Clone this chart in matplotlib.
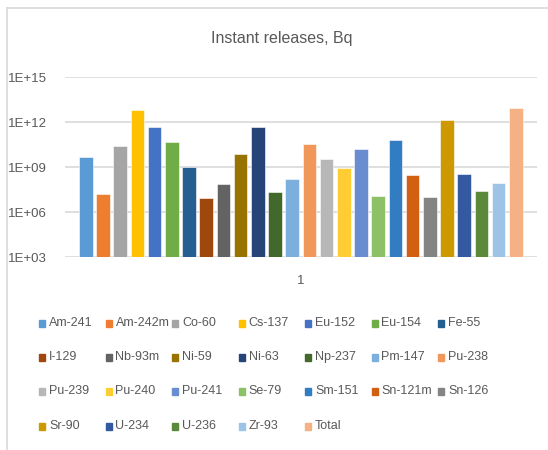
import numpy as np
import matplotlib.pyplot as plt
from matplotlib.lines import Line2D
from matplotlib.patches import Rectangle
from matplotlib.ticker import FixedLocator, FuncFormatter

# ------------ Data -------------
nuclides = ["Am-241", "Am-242m", "Co-60", "Cs-137", "Eu-152", "Eu-154", "Fe-55",
            "I-129", "Nb-93m", "Ni-59", "Ni-63", "Np-237", "Pm-147", "Pu-238",
            "Pu-239", "Pu-240", "Pu-241", "Se-79", "Sm-151", "Sn-121m", "Sn-126",
            "Sr-90", "U-234", "U-236", "Zr-93", "Total"]
releases = [5.0e9, 1.6e7, 2.8e10, 6.6e12, 5.0e11, 5.0e10, 1.0e9,
            9.0e6, 7.4e7, 7.4e9, 5.0e11, 2.2e7, 1.6e8, 3.8e10,
            3.4e9, 8.5e8, 1.6e10, 1.2e7, 7.0e10, 3.0e8, 1.05e7,
            1.4e12, 3.4e8, 2.5e7, 8.5e7, 9.0e12]
colors = ["#5B9BD5", "#ED7D31", "#A5A5A5", "#FFC000", "#4472C4", "#70AD47", "#255E91",
          "#9E480E", "#636363", "#997300", "#264478", "#43682B", "#7CAFDD", "#F1975A",
          "#B7B7B7", "#FFCD33", "#698ED0", "#8CC168", "#327DC2", "#D26012", "#848484",
          "#CC9A00", "#335AA1", "#5A8A39", "#9DC3E6", "#F4B183"]
y_ticks = [1e3, 1e6, 1e9, 1e12, 1e15]
category_label = "1"

TXT = "#595959"
plt.rcParams["font.family"] = ["Liberation Sans", "DejaVu Sans"]

W, H = 548, 450
fig = plt.figure(figsize=(W / 100, H / 100), dpi=100)

# chart border (top + left visible)
fig.add_artist(Line2D([7 / W, 7 / W], [0, 1 - 8 / H], color="#D9D9D9", lw=1.2))
fig.add_artist(Line2D([7 / W, 1], [1 - 8 / H, 1 - 8 / H], color="#D9D9D9", lw=1.2))

ax = fig.add_axes([65 / W, 1 - 257.3 / H, 472 / W, 180 / H])
ax.set_yscale("log")
ax.set_ylim(1e3, 1e15)

x = np.arange(len(nuclides))
ax.bar(x, releases, width=0.79, color=colors, bottom=0, edgecolor="white", linewidth=0.4, zorder=3)
ax.set_xlim(-1.21, 26.23)

ax.yaxis.set_major_locator(FixedLocator(y_ticks))
ax.yaxis.set_minor_locator(FixedLocator([]))
ax.yaxis.set_major_formatter(FuncFormatter(lambda v, p: "1E+%02d" % round(np.log10(v))))
ax.grid(axis="y", color="#D9D9D9", lw=1.2, zorder=0)
ax.set_xticks([(len(nuclides) - 1) / 2])
ax.set_xticklabels([category_label])
ax.tick_params(axis="both", length=0, colors=TXT, labelsize=9.5)
ax.tick_params(axis="y", pad=13)
ax.tick_params(axis="x", pad=13)
for s in ax.spines.values():
    s.set_visible(False)

fig.text(282 / W, 1 - 39 / H, "Instant releases, Bq", ha="center", va="center",
         fontsize=11.5, color=TXT)

# legend: 7 columns, row-major, drawn from the same lists
row_y = [323, 357, 391, 426]
for i, (name, c) in enumerate(zip(nuclides, colors)):
    r, col = divmod(i, 7)
    x0 = 39 + col * 66.5
    y0 = row_y[r]
    fig.add_artist(Rectangle((x0 / W, (H - y0 - 3.5) / H), 6 / W, 7 / H,
                             transform=fig.transFigure, color=c))
    fig.text((x0 + 10) / W, 1 - y0 / H, name, ha="left", va="center",
             fontsize=9, color=TXT)

fig.savefig("out.png", dpi=100)
